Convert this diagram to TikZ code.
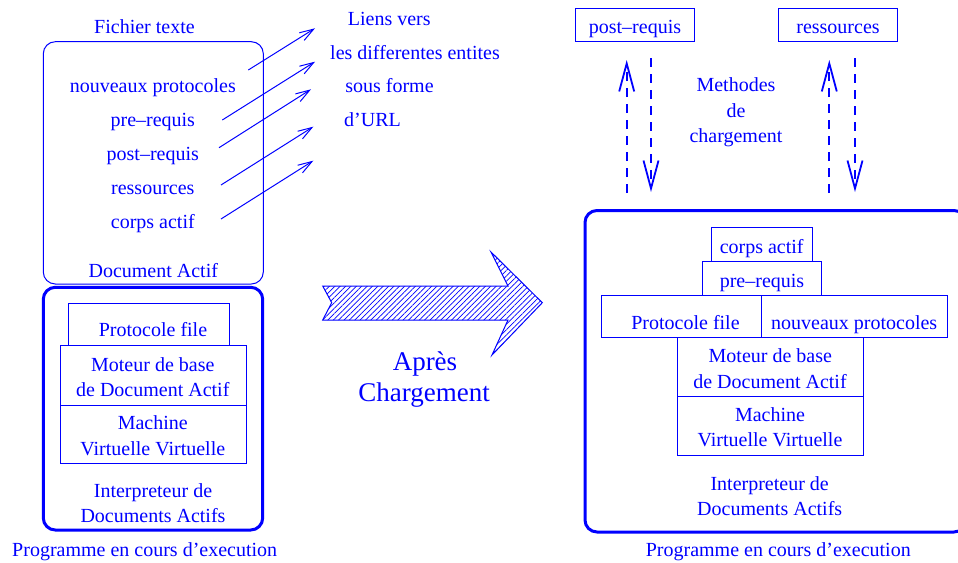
\documentclass[tikz,border=0pt]{standalone}
\usepackage{fontspec}
\setmainfont{Liberation Serif}
\usetikzlibrary{arrows.meta,patterns.meta}
\definecolor{fig}{RGB}{0,0,255}
\begin{document}
\begin{tikzpicture}[x=1pt,y=-1pt,
  every node/.style={text=fig, font=\fontsize{20}{24}\selectfont, inner sep=0pt, outer sep=0pt},
  lbl/.style={anchor=base},
  biglbl/.style={anchor=base, font=\fontsize{27}{32}\selectfont},
  thinbox/.style={draw=fig, line width=1pt, anchor=north west},
  thickbox/.style={draw=fig, line width=3pt, anchor=north west, rounded corners=12pt},
  link/.style={draw=fig, line width=1pt, -{Straight Barb[length=14pt,width=9pt]}},
  load/.style={draw=fig, line width=1.8pt, dash pattern=on 9pt off 7pt, -{Straight Barb[length=28pt,width=15pt]}},
]
\useasboundingbox (0,0) rectangle (958,562);

% ---------------- left side ----------------
\node[lbl] (fichier) at (144.5,33.3) {Fichier texte};
\node[thinbox, rounded corners=12pt, minimum width=220pt, minimum height=242.3pt] (doc) at (43.3,41.7) {};
\node[lbl] (tnouv) at (152.8,92.3) {nouveaux protocoles};
\node[lbl] (tpre) at (152.8,126.7) {pre--requis};
\node[lbl] (tpost) at (152.8,160.7) {post--requis};
\node[lbl] (tres) at (152.8,194) {ressources};
\node[lbl] (tcorps) at (152.8,228.3) {corps actif};
\node[lbl] (tdoc) at (153.3,277.7) {Document Actif};

\node[lbl] (liens1) at (389.3,25) {Liens vers};
\node[lbl] (liens2) at (415,59.3) {les differentes entites};
\node[lbl] (liens3) at (389.5,92.3) {sous forme};
\node[lbl] (liens4) at (372.5,126) {d’URL};

\coordinate (l1s) at (248.3,70);   \coordinate (l1e) at (315,28.3);
\coordinate (l2s) at (222.3,120);  \coordinate (l2e) at (315,61.7);
\coordinate (l3s) at (219,147.7);  \coordinate (l3e) at (311,89.3);
\coordinate (l4s) at (221,185);    \coordinate (l4e) at (313.3,126.7);
\coordinate (l5s) at (221,219);    \coordinate (l5e) at (313.3,160.7);
\draw[link] (l1s) -- (l1e);
\draw[link] (l2s) -- (l2e);
\draw[link] (l3s) -- (l3e);
\draw[link] (l4s) -- (l4e);
\draw[link] (l5s) -- (l5e);

\node[thickbox, minimum width=219.4pt, minimum height=242.7pt] (interpL) at (43.3,287.3) {};
\node[thinbox, minimum width=161pt, minimum height=42.4pt] (protoL) at (68.3,303.3) {};
\node[thinbox, minimum width=186pt, minimum height=59.6pt] (moteurL) at (60,345.7) {};
\node[thinbox, minimum width=186pt, minimum height=58.4pt] (machineL) at (60,405.3) {};
\node[lbl] (tprotoL) at (153,336) {Protocole file};
\node[lbl] (tmot1L) at (152.8,371) {Moteur de base};
\node[lbl] (tmot2L) at (152.8,396.7) {de Document Actif};
\node[lbl] (tmac1L) at (152.8,429.3) {Machine};
\node[lbl] (tmac2L) at (152.8,455) {Virtuelle Virtuelle};
\node[lbl] (tint1L) at (153,497.3) {Interpreteur de};
\node[lbl] (tint2L) at (153,522.7) {Documents Actifs};
\node[lbl] (tprogL) at (144.7,556) {Programme en cours d’execution};

% ---------------- big hatched arrow ----------------
\draw[fig, line width=1pt, pattern={Lines[angle=45,distance=3.8pt,line width=0.7pt]}, pattern color=fig]
  (322.7,286) -- (508,286) -- (491,252) -- (542.3,302.7) -- (492,355) -- (508,320)
  -- (322.7,320) -- (331.7,302.7) -- cycle;
\node[biglbl] (apres) at (425,370) {Après};
\node[biglbl] (charg) at (424,401.7) {Chargement};

% ---------------- right side ----------------
\node[thinbox, minimum width=118.6pt, minimum height=33.4pt] (postR) at (575.7,8.3) {};
\node[thinbox, minimum width=119.4pt, minimum height=33.4pt] (resR) at (778.3,8.3) {};
\node[lbl] (tpostR) at (635,33.3) {post--requis};
\node[lbl] (tresR) at (838,33.3) {ressources};

\coordinate (u1s) at (626.7,193); \coordinate (u1e) at (626.7,60);
\coordinate (d1s) at (651,58);    \coordinate (d1e) at (651,192);
\coordinate (u2s) at (829.3,193); \coordinate (u2e) at (829.3,60);
\coordinate (d2s) at (855,58);    \coordinate (d2e) at (855,192);
\draw[load] (u1s) -- (u1e);
\draw[load] (d1s) -- (d1e);
\draw[load] (u2s) -- (u2e);
\draw[load] (d2s) -- (d2e);
\node[lbl] (meth1) at (736,91.7) {Methodes};
\node[lbl] (meth2) at (736,117.3) {de};
\node[lbl] (meth3) at (736,142.7) {chargement};

\node[thickbox, minimum width=381pt, minimum height=321.5pt] (interpR) at (585,210.5) {};
\node[thinbox, minimum width=101pt, minimum height=33.3pt] (corpsR) at (711,227.7) {};
\node[thinbox, minimum width=118.7pt, minimum height=34pt] (preR) at (702.3,261) {};
\node[thinbox, minimum width=160.7pt, minimum height=42pt] (protoR) at (601,295) {};
\node[thinbox, minimum width=186pt, minimum height=42pt] (nouvR) at (761.7,295) {};
\node[thinbox, minimum width=186.3pt, minimum height=59.7pt] (moteurR) at (677,337) {};
\node[thinbox, minimum width=186.3pt, minimum height=59pt] (machineR) at (677,396.7) {};
\node[lbl] (tcorpsR) at (761.7,253.3) {corps actif};
\node[lbl] (tpreR) at (762,287.3) {pre--requis};
\node[lbl] (tprotoR) at (685.5,329) {Protocole file};
\node[lbl] (tnouvR) at (854.2,329) {nouveaux protocoles};
\node[lbl] (tmot1R) at (770.3,362.7) {Moteur de base};
\node[lbl] (tmot2R) at (770,388.3) {de Document Actif};
\node[lbl] (tmac1R) at (770,421.7) {Machine};
\node[lbl] (tmac2R) at (770,446.7) {Virtuelle Virtuelle};
\node[lbl] (tint1R) at (769.7,490) {Interpreteur de};
\node[lbl] (tint2R) at (769.7,515) {Documents Actifs};
\node[lbl] (tprogR) at (778.3,556.7) {Programme en cours d’execution};
\end{tikzpicture}
\end{document}
